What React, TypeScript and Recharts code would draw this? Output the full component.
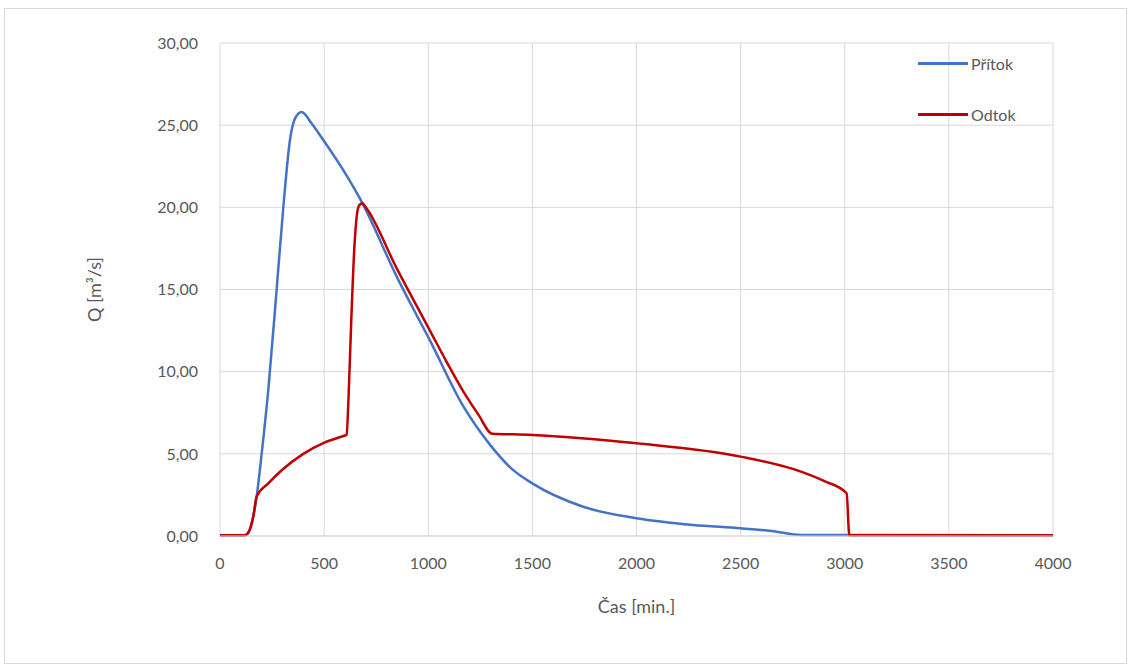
import React from "react";
import { CartesianGrid, Label, Line, LineChart, XAxis, YAxis } from "recharts";

// Přítok / odtok hydrogram (čas v minutách, průtok v m³/s)
const inflowTime = [0, 120, 140, 160, 176, 200, 232, 272, 304, 336, 360, 392, 440, 496, 600, 680, 848, 1008, 1168, 1300, 1400, 1500, 1744, 2000, 2272, 2500, 2650, 2793, 4000];
const inflowQ = [0.05, 0.05, 0.3, 1.2, 2.4, 5.0, 8.9, 15.0, 20.0, 24.1, 25.4, 25.8, 25.1, 24.1, 22.1, 20.35, 15.8, 11.9, 7.9, 5.5, 4.1, 3.2, 1.78, 1.08, 0.67, 0.47, 0.3, 0.06, 0.05];

const outflowTime = [0, 120, 140, 160, 176, 232, 296, 400, 504, 596, 608, 616, 630, 645, 664, 675, 683, 700, 848, 1008, 1088, 1168, 1240, 1308, 1330, 1500, 2000, 2500, 2793, 2900, 3009, 3022, 4000];
const outflowQ = [0.05, 0.05, 0.3, 1.2, 2.4, 3.2, 4.0, 5.0, 5.7, 6.1, 6.15, 8.0, 13.0, 17.5, 20.0, 20.2, 20.25, 20.0, 16.3, 12.5, 10.6, 8.8, 7.4, 6.22, 6.21, 6.15, 5.64, 4.83, 3.9, 3.35, 2.6, 0.05, 0.05];

const xTicks = [0, 500, 1000, 1500, 2000, 2500, 3000, 3500, 4000];
const yTicks = [0, 5, 10, 15, 20, 25, 30];

const seriesNames = ["Přítok", "Odtok"];
const seriesColors = ["#4472C4", "#C00000"];

const inflow = inflowTime.map((t, i) => ({ t, q: inflowQ[i] }));
const outflow = outflowTime.map((t, i) => ({ t, q: outflowQ[i] }));

const FONT = "Lato, 'Open Sans', sans-serif";
const TEXT = "#595959";
const GRID = "#d9d9d9";

const fmt = (v: number) => v.toFixed(2).replace(".", ",");

function LegendBox() {
  return (
    <div
      style={{
        position: "absolute",
        left: 918,
        top: 38,
        fontFamily: FONT,
        fontSize: 16,
        color: TEXT,
      }}
    >
      {seriesNames.map((name, i) => (
        <div key={name} style={{ display: "flex", alignItems: "center", height: 51 }}>
          <div style={{ width: 50, height: 3, background: seriesColors[i], marginRight: 3 }} />
          <span>{name}</span>
        </div>
      ))}
    </div>
  );
}

export default function App() {
  return (
    <div style={{ position: "absolute", left: 0, top: 0, width: 1131, height: 666, background: "#fff" }}>
      <div
        style={{
          position: "absolute",
          left: 4,
          top: 8,
          width: 1121,
          height: 654,
          border: `1px solid ${GRID}`,
        }}
      />
      <div style={{ position: "absolute", left: 0, top: 0 }}>
        <LineChart width={1131} height={666} margin={{ top: 43, right: 78, bottom: 0, left: 0 }}>
          <CartesianGrid stroke={GRID} strokeWidth={1} />
          <XAxis
            type="number"
            dataKey="t"
            domain={[0, 4000]}
            ticks={xTicks}
            allowDataOverflow
            height={130}
            stroke={GRID}
            tickLine={false}
            tickSize={0}
            tickMargin={22}
            tick={{ fill: TEXT, fontSize: 16, fontFamily: FONT }}
          >
            <Label
              content={({ viewBox }: any) => (
                <text
                  x={viewBox.x + viewBox.width / 2}
                  y={613}
                  textAnchor="middle"
                  fill={TEXT}
                  fontSize={18}
                  fontFamily={FONT}
                >
                  Čas [min.]
                </text>
              )}
            />
          </XAxis>
          <YAxis
            type="number"
            domain={[0, 30]}
            ticks={yTicks}
            width={220}
            axisLine={false}
            tickLine={false}
            tickSize={0}
            tickMargin={22}
            tickFormatter={fmt}
            tick={{ fill: TEXT, fontSize: 16, fontFamily: FONT }}
          >
            <Label
              content={({ viewBox }: any) => {
                const cy = viewBox.y + viewBox.height / 2;
                return (
                  <text
                    x={101}
                    y={cy}
                    transform={`rotate(-90 101 ${cy})`}
                    textAnchor="middle"
                    fill={TEXT}
                    fontSize={18}
                    fontFamily={FONT}
                  >
                    Q [m³/s]
                  </text>
                );
              }}
            />
          </YAxis>
          <Line
            data={inflow}
            dataKey="q"
            name={seriesNames[0]}
            type="monotone"
            stroke={seriesColors[0]}
            strokeWidth={2.5}
            dot={false}
            isAnimationActive={false}
          />
          <Line
            data={outflow}
            dataKey="q"
            name={seriesNames[1]}
            type="monotone"
            stroke={seriesColors[1]}
            strokeWidth={2.5}
            dot={false}
            isAnimationActive={false}
          />
        </LineChart>
      </div>
      <LegendBox />
    </div>
  );
}
